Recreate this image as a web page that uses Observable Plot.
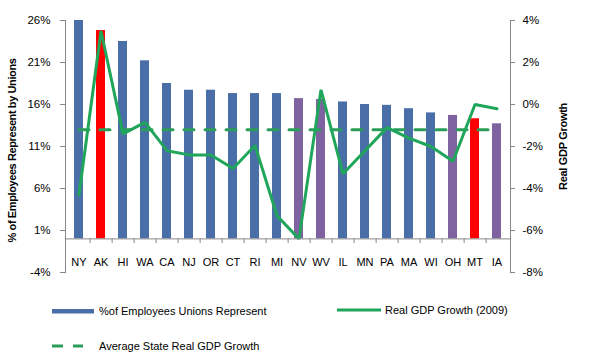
<!DOCTYPE html>
<html>
<head>
<meta charset="utf-8">
<script src="https://cdn.jsdelivr.net/npm/d3@7"></script>
<script src="https://cdn.jsdelivr.net/npm/@observablehq/plot@0.6"></script>
<style>
  body { margin: 0; background: #fff; font-family: "Liberation Sans", Arial, sans-serif; }
  #wrap { width: 603px; }
  .legend { position: relative; width: 603px; height: 74px; font-size: 11px; color: #000; }
  .legend .item { position: absolute; display: flex; align-items: center; height: 12px; }
  .legend svg { display: block; }
  .ttl-left text { letter-spacing: -0.4px; }
  .ttl-right text { letter-spacing: -0.3px; }
</style>
</head>
<body>
<div id="wrap"></div>
<script>
// ---- data ----
const states = ["NY","AK","HI","WA","CA","NJ","OR","CT","RI","MI","NV","WV","IL","MN","PA","MA","WI","OH","MT","IA"];
const unionPct = [26.0,24.8,23.5,21.2,18.5,17.7,17.7,17.3,17.3,17.3,16.7,16.6,16.3,16.0,15.9,15.5,15.0,14.7,14.3,13.7];
const gdpGrowth = [-4.3,3.5,-1.4,-0.85,-2.2,-2.4,-2.4,-3.05,-1.95,-5.3,-6.4,0.7,-3.3,-2.2,-1.1,-1.6,-2.0,-2.7,0.0,-0.2];
const barGroup = ["blue","red","blue","blue","blue","blue","blue","blue","blue","blue","purple","purple","blue","blue","blue","blue","blue","purple","red","purple"];
const avgGdp = -1.2;
const leftTicks = [-4,1,6,11,16,21,26];
const rightTicks = [-8,-6,-4,-2,0,2,4];

const colors = {blue: "#4a6fa8", red: "#ff0000", purple: "#7f63a1"};
const green = "#1fa65a";
const greenDash = "#2a9d58";

// secondary axis mapping: left = 16 + 2.5 * right
const toLeft = g => 16 + 2.5 * g;

const rows = states.map((s, i) => ({state: s, pct: unionPct[i], gdp: gdpGrowth[i], grp: barGroup[i], avg: avgGdp}));

const W = 603, H = 290, mL = 65, mR = 93, mT = 20, mB = 18;
const step = (W - mL - mR) / states.length;
const axisColor = "#888";

const plot = Plot.plot({
  width: W, height: H,
  marginLeft: mL, marginRight: mR, marginTop: mT, marginBottom: mB,
  style: {fontFamily: "'Liberation Sans', Arial, sans-serif", fontSize: "12px", color: "#000", background: "#fff"},
  x: {type: "band", domain: states, paddingInner: 0.6, paddingOuter: 0.3, axis: null},
  y: {domain: [-4, 26], axis: null},
  marks: [
    Plot.barY(rows, {x: "state", y: "pct", fill: d => colors[d.grp]}),
    Plot.lineY(rows, {x: "state", y: d => toLeft(d.avg), stroke: greenDash, strokeWidth: 3, strokeDasharray: "10,11"}),
    Plot.lineY(rows, {x: "state", y: d => toLeft(d.gdp), stroke: green, strokeWidth: 3, strokeLinejoin: "miter"}),
    // axes lines
    Plot.ruleY([0], {stroke: axisColor}),
    Plot.frame({anchor: "left", stroke: axisColor}),
    Plot.frame({anchor: "right", stroke: axisColor}),
    // category ticks at band boundaries
    Plot.ruleX(states.slice(0, -1), {x: d => d, dx: step / 2, y1: 0, y2: -0.55, stroke: axisColor}),
    Plot.text(states, {x: d => d, y: 0, dy: 24, text: d => d, fontSize: 11}),
    // left axis
    Plot.axisY(leftTicks, {anchor: "left", tickSize: 5, tickPadding: 10, tickFormat: d => d + "%", stroke: axisColor, label: null, fontSize: 11.5}),
    // right axis (secondary scale mapped onto left)
    Plot.axisY(rightTicks.map(toLeft), {anchor: "right", tickSize: 4, tickPadding: 8, tickFormat: v => Math.round((v - 16) / 2.5) + "%", stroke: axisColor, label: null, fontSize: 11.5}),
    Plot.text(["% of Employees Represent by Unions"], {frameAnchor: "left", dx: -53, dy: 4, rotate: -90, fontWeight: "bold", fontSize: 11, textAnchor: "middle", className: "ttl-left"}),
    Plot.text(["Real GDP Growth"], {frameAnchor: "right", dx: 53, dy: 0, rotate: -90, fontWeight: "bold", fontSize: 11, textAnchor: "middle", className: "ttl-right"})
  ]
});

const wrap = document.getElementById("wrap");
wrap.appendChild(plot);

// legend
const legend = document.createElement("div");
legend.className = "legend";
legend.innerHTML = `
  <div class="item" style="left:52px; top:15px;">
    <svg width="42" height="12"><rect x="0" y="4" width="42" height="4.5" fill="${colors.blue}"/></svg>
    <span style="margin-left:5px;">%of Employees Unions Represent</span>
  </div>
  <div class="item" style="left:337px; top:14px;">
    <svg width="44" height="12"><line x1="0" x2="44" y1="6" y2="6" stroke="${green}" stroke-width="3"/></svg>
    <span style="margin-left:4px;">Real GDP Growth (2009)</span>
  </div>
  <div class="item" style="left:52px; top:50px;">
    <svg width="31" height="12"><line x1="0" x2="31" y1="6" y2="6" stroke="${greenDash}" stroke-width="3" stroke-dasharray="11,10"/></svg>
    <span style="margin-left:16px;">Average State Real GDP Growth</span>
  </div>`;
wrap.appendChild(legend);
</script>
</body>
</html>
